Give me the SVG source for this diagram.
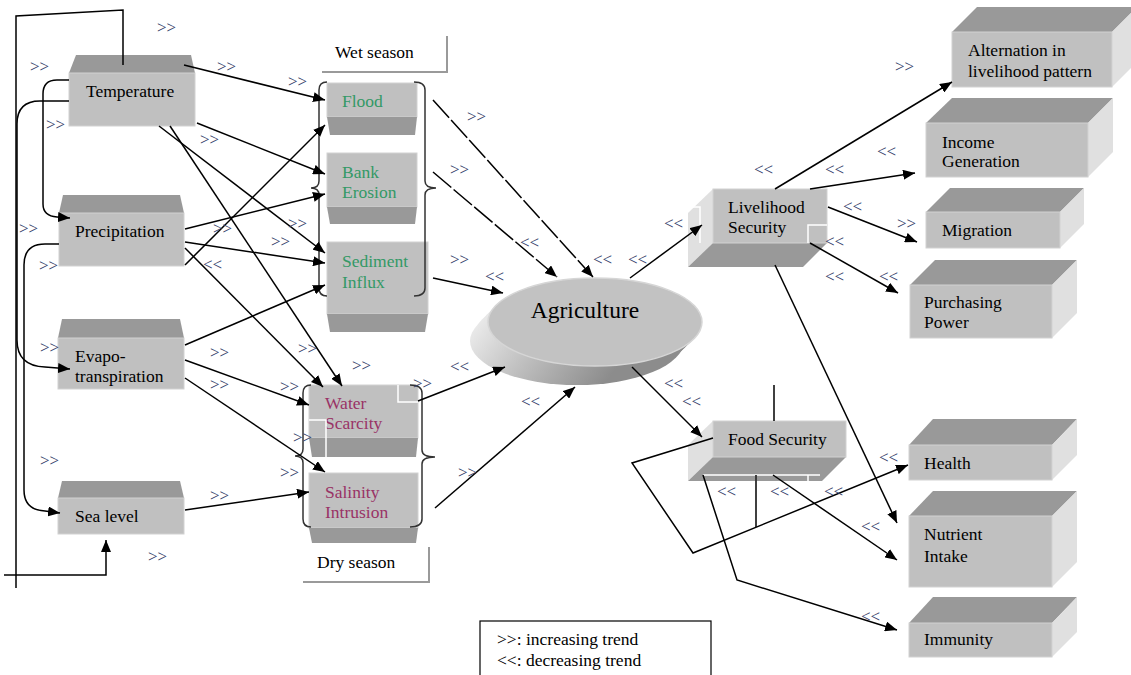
<svg xmlns="http://www.w3.org/2000/svg" width="1131" height="675" viewBox="0 0 1131 675" font-family="Liberation Serif, DejaVu Serif, serif">
<defs>
<marker id="ah" viewBox="0 0 12 10" refX="12" refY="5" markerWidth="12" markerHeight="10" orient="auto" markerUnits="userSpaceOnUse"><path d="M0,0 L12,5 L0,10 z" fill="#000"/></marker>
<linearGradient id="ag" gradientUnits="userSpaceOnUse" x1="480" y1="300" x2="600" y2="390"><stop offset="0" stop-color="#f2f2f2"/><stop offset="0.5" stop-color="#bdbdbd"/><stop offset="1" stop-color="#8c8c8c"/></linearGradient>
<style>
text{font-family:'Liberation Serif','DejaVu Serif',serif}
.t{font-size:17.5px;fill:#000}
.g{fill:#339966}
.m{fill:#993366}
.mk{font-size:17px;fill:#34406a}
.f{fill:#c0c0c0;stroke:#d2d2d2;stroke-width:1}
.d{fill:#999999}
.s{fill:#e0e0e0}
.c{fill:none;stroke:#000;stroke-width:1.5}
.a{marker-end:url(#ah)}
.br{fill:none;stroke:#333;stroke-width:1.5}
.lb{fill:none;stroke:#9a9a9a;stroke-width:2}
.wl{fill:none;stroke:#fff;stroke-width:1.5}
</style>
</defs>
<rect width="1131" height="675" fill="#fff"/>

<g id="wet-season"><path class="lb" d="M322,72 H447 V36"/><text class="t" x="335" y="58">Wet season</text></g>
<g id="dry-season"><path class="lb" d="M303,582 H429 V547"/><text class="t" x="317" y="568">Dry season</text></g>
<g id="legend"><rect x="480" y="621" width="231" height="70" fill="#fff" stroke="#000" stroke-width="1.2"/><text class="t" x="497" y="645">&gt;&gt;: increasing trend</text><text class="t" x="497" y="666">&lt;&lt;: decreasing trend</text></g>

<g id="temperature"><polygon class="d" points="76,55 191,55 195,73 69,73"/><rect class="f" x="69" y="73" width="126" height="53"/><text class="t" x="86" y="97">Temperature</text></g>
<g id="precipitation"><polygon class="d" points="63,195 180,195 184,213 59,213"/><rect class="f" x="59" y="213" width="125" height="53"/><text class="t" x="75" y="237">Precipitation</text></g>
<g id="evapotranspiration"><polygon class="d" points="62,319 180,319 184,338 58,338"/><rect class="f" x="58" y="338" width="126" height="51"/><text class="t" x="75" y="362">Evapo-</text><text class="t" x="75" y="382">transpiration</text></g>
<g id="sea-level"><polygon class="d" points="62,481 180,481 184,498 58,498"/><rect class="f" x="58" y="498" width="126" height="36"/><text class="t" x="75" y="522">Sea level</text></g>

<g id="flood"><rect class="f" x="327" y="83" width="90" height="34"/><polygon class="d" points="327,117 417,117 415,135 330,135"/><text class="t g" x="342" y="107">Flood</text></g>
<g id="bank-erosion"><rect class="f" x="327" y="153" width="90" height="54"/><polygon class="d" points="327,207 417,207 415,224 330,224"/><text class="t g" x="342" y="178">Bank</text><text class="t g" x="342" y="198">Erosion</text></g>
<g id="sediment-influx"><rect class="f" x="327" y="242" width="101" height="72"/><polygon class="d" points="327,314 428,314 425,332 330,332"/><text class="t g" x="342" y="267">Sediment</text><text class="t g" x="342" y="288">Influx</text></g>
<g id="water-scarcity"><rect class="f" x="309" y="385" width="109" height="53"/><polygon class="d" points="309,438 418,438 416,457 312,457"/><text class="t m" x="325" y="409">Water</text><text class="t m" x="325" y="429">Scarcity</text><path class="wl" d="M398,385 V402 H418 M309,420 H326 V457"/></g>
<g id="salinity-intrusion"><rect class="f" x="309" y="473" width="109" height="55"/><polygon class="d" points="309,528 418,528 416,543 312,543"/><text class="t m" x="325" y="498">Salinity</text><text class="t m" x="325" y="518">Intrusion</text></g>
<g id="braces">
<path class="br" d="M327,82 Q319,82 319,90 V181 Q319,188 311,188 Q319,188 319,195 V288 Q319,296 327,296"/>
<path class="br" d="M414,82 Q425,82 425,90 V181 Q425,188 436,188 Q425,188 425,195 V288 Q425,296 414,296"/>
<path class="br" d="M311,385 Q303,385 303,393 V449 Q303,456 295,456 Q303,456 303,463 V519 Q303,527 311,527"/>
<path class="br" d="M410,385 Q422,385 422,393 V450 Q422,457 435,457 Q422,457 422,464 V519 Q422,527 410,527"/>
</g>

<g id="agriculture">
<ellipse cx="577" cy="341" rx="107" ry="44" fill="url(#ag)"/>
<ellipse cx="581" cy="336" rx="107" ry="44" fill="url(#ag)"/>
<ellipse cx="586" cy="331" rx="107" ry="44" fill="url(#ag)"/>
<ellipse cx="590" cy="327" rx="107" ry="44" fill="url(#ag)"/>
<ellipse cx="595" cy="322" rx="107" ry="44" fill="#c2c2c2" stroke="#d6d6d6" stroke-width="1.5"/>
<text class="t" x="585" y="318" text-anchor="middle" style="font-size:23.5px">Agriculture</text>
</g>

<g id="livelihood-security"><polygon class="s" points="688,213 713,189 713,243 688,267"/><polygon class="d" points="713,243 827,243 803,267 688,267"/><rect class="f" x="713" y="189" width="114" height="54"/><text class="t" x="728" y="213">Livelihood</text><text class="t" x="728" y="233">Security</text><path class="wl" d="M688,207 H700 V243 M808,243 V225 H827"/></g>
<g id="food-security"><polygon class="s" points="688,445 713,421 713,457 688,481"/><polygon class="d" points="713,457 846,457 822,481 688,481"/><rect class="f" x="713" y="421" width="133" height="36"/><text class="t" x="728" y="445">Food Security</text><path class="wl" d="M703,475 H820 M756,475 V481 M808,475 V481"/></g>

<g id="alternation"><polygon class="d" points="952,32 977,7 1137,7 1112,32"/><polygon class="s" points="1112,32 1137,7 1137,62 1112,87"/><rect class="f" x="952" y="32" width="160" height="55"/><text class="t" x="968" y="56">Alternation in</text><text class="t" x="968" y="77">livelihood pattern</text></g>
<g id="income-generation"><polygon class="d" points="926,123 952,98 1113,98 1088,123"/><polygon class="s" points="1088,123 1113,98 1113,152 1088,177"/><rect class="f" x="926" y="123" width="162" height="54"/><text class="t" x="942" y="148">Income</text><text class="t" x="942" y="167">Generation</text></g>
<g id="migration"><polygon class="d" points="926,212 950,188 1084,188 1060,212"/><polygon class="s" points="1060,212 1084,188 1084,224 1060,248"/><rect class="f" x="926" y="212" width="134" height="36"/><text class="t" x="942" y="236">Migration</text></g>
<g id="purchasing-power"><polygon class="d" points="910,285 935,260 1077,260 1052,285"/><polygon class="s" points="1052,285 1077,260 1077,313 1052,338"/><rect class="f" x="910" y="285" width="142" height="53"/><text class="t" x="924" y="308">Purchasing</text><text class="t" x="924" y="328">Power</text></g>
<g id="health"><polygon class="d" points="909,445 933,419 1077,419 1052,445"/><polygon class="s" points="1052,445 1077,419 1077,455 1052,480"/><rect class="f" x="909" y="445" width="143" height="35"/><text class="t" x="924" y="469">Health</text></g>
<g id="nutrient-intake"><polygon class="d" points="909,516 933,491 1077,491 1052,516"/><polygon class="s" points="1052,516 1077,491 1077,562 1052,587"/><rect class="f" x="909" y="516" width="143" height="71"/><text class="t" x="924" y="540">Nutrient</text><text class="t" x="924" y="562">Intake</text></g>
<g id="immunity"><polygon class="d" points="909,623 933,597 1077,597 1052,623"/><polygon class="s" points="1052,623 1077,597 1077,632 1052,657"/><rect class="f" x="909" y="623" width="143" height="34"/><text class="t" x="924" y="645">Immunity</text></g>

<g id="connectors">
<path class="c" d="M123,65 V10 L16,16 V588"/>
<path class="c a" d="M4,575 H106 V540"/>
<path class="c a" d="M69,80 H57 Q43,80 43,94 V204 Q43,216 57,217 L70,218"/>
<path class="c a" d="M69,101 H40 Q17,101 17,124 V340 Q17,366 45,367 L70,369"/>
<path class="c a" d="M59,244 H45 Q24,244 24,265 V490 Q24,510 45,511 L60,513"/>

<path class="c a" d="M184,65 L325,100"/>
<path class="c a" d="M197,123 L325,174"/>
<path class="c a" d="M159,126 L325,253"/>
<path class="c a" d="M170,126 L342,386"/>
<path class="c a" d="M185,265 L325,125"/>
<path class="c a" d="M185,229 L325,194"/>
<path class="c a" d="M185,242 L325,263"/>
<path class="c a" d="M185,248 L323,387"/>
<path class="c a" d="M185,345 L325,285"/>
<path class="c a" d="M185,360 L309,405"/>
<path class="c a" d="M185,378 L325,472"/>
<path class="c a" d="M185,510 L309,492"/>

<path class="c a" d="M433,100 L593,277" stroke-dasharray="24 3"/>
<path class="c a" d="M433,172 L557,277" stroke-dasharray="24 3"/>
<path class="c a" d="M433,278 L503,293"/>
<path class="c a" d="M418,401 L505,367"/>
<path class="c a" d="M435,508 L575,387"/>

<path class="c a" d="M630,278 L702,225"/>
<path class="c a" d="M632,367 L702,437"/>

<path class="c a" d="M775,189 L952,82"/>
<path class="c a" d="M810,189 L915,173"/>
<path class="c a" d="M828,207 L917,242"/>
<path class="c a" d="M810,243 L898,293"/>
<path class="c a" d="M775,265 L897,523"/>

<path class="c" d="M774,385 V421" stroke="#555" stroke-width="1.3"/>
<path class="c" d="M756,475 V527" stroke="#555" stroke-width="1.3"/>
<path class="c a" d="M713,438 L632,463 L693,553 L908,465"/>
<path class="c a" d="M703,475 L737,580 L897,630"/>
<path class="c a" d="M773,475 L897,560"/>
</g>

<g id="trend-markers">
<text class="mk" x="157" y="33">&gt;&gt;</text>
<text class="mk" x="30" y="72">&gt;&gt;</text>
<text class="mk" x="217" y="72">&gt;&gt;</text>
<text class="mk" x="288" y="87">&gt;&gt;</text>
<text class="mk" x="46" y="130">&gt;&gt;</text>
<text class="mk" x="200" y="145">&gt;&gt;</text>
<text class="mk" x="19" y="234">&gt;&gt;</text>
<text class="mk" x="213" y="234">&gt;&gt;</text>
<text class="mk" x="288" y="229">&gt;&gt;</text>
<text class="mk" x="271" y="247">&gt;&gt;</text>
<text class="mk" x="39" y="271">&gt;&gt;</text>
<text class="mk" x="467" y="122">&gt;&gt;</text>
<text class="mk" x="450" y="175">&gt;&gt;</text>
<text class="mk" x="450" y="265">&gt;&gt;</text>
<text class="mk" x="352" y="371">&gt;&gt;</text>
<text class="mk" x="40" y="353">&gt;&gt;</text>
<text class="mk" x="210" y="358">&gt;&gt;</text>
<text class="mk" x="298" y="354">&gt;&gt;</text>
<text class="mk" x="210" y="390">&gt;&gt;</text>
<text class="mk" x="280" y="392">&gt;&gt;</text>
<text class="mk" x="413" y="389">&gt;&gt;</text>
<text class="mk" x="293" y="443">&gt;&gt;</text>
<text class="mk" x="40" y="466">&gt;&gt;</text>
<text class="mk" x="280" y="478">&gt;&gt;</text>
<text class="mk" x="210" y="501">&gt;&gt;</text>
<text class="mk" x="148" y="562">&gt;&gt;</text>
<text class="mk" x="458" y="478">&gt;&gt;</text>
<text class="mk" x="895" y="72">&gt;&gt;</text>
<text class="mk" x="897" y="229">&gt;&gt;</text>

<text class="mk" x="203" y="270">&lt;&lt;</text>
<text class="mk" x="520" y="248">&lt;&lt;</text>
<text class="mk" x="485" y="282">&lt;&lt;</text>
<text class="mk" x="593" y="265">&lt;&lt;</text>
<text class="mk" x="628" y="265">&lt;&lt;</text>
<text class="mk" x="450" y="372">&lt;&lt;</text>
<text class="mk" x="521" y="407">&lt;&lt;</text>
<text class="mk" x="664" y="389">&lt;&lt;</text>
<text class="mk" x="682" y="407">&lt;&lt;</text>
<text class="mk" x="754" y="175">&lt;&lt;</text>
<text class="mk" x="825" y="175">&lt;&lt;</text>
<text class="mk" x="664" y="229">&lt;&lt;</text>
<text class="mk" x="843" y="212">&lt;&lt;</text>
<text class="mk" x="825" y="247">&lt;&lt;</text>
<text class="mk" x="825" y="282">&lt;&lt;</text>
<text class="mk" x="879" y="282">&lt;&lt;</text>
<text class="mk" x="877" y="157">&lt;&lt;</text>
<text class="mk" x="879" y="463">&lt;&lt;</text>
<text class="mk" x="717" y="497">&lt;&lt;</text>
<text class="mk" x="770" y="497">&lt;&lt;</text>
<text class="mk" x="824" y="497">&lt;&lt;</text>
<text class="mk" x="861" y="532">&lt;&lt;</text>
<text class="mk" x="861" y="622">&lt;&lt;</text>
</g>
</svg>
